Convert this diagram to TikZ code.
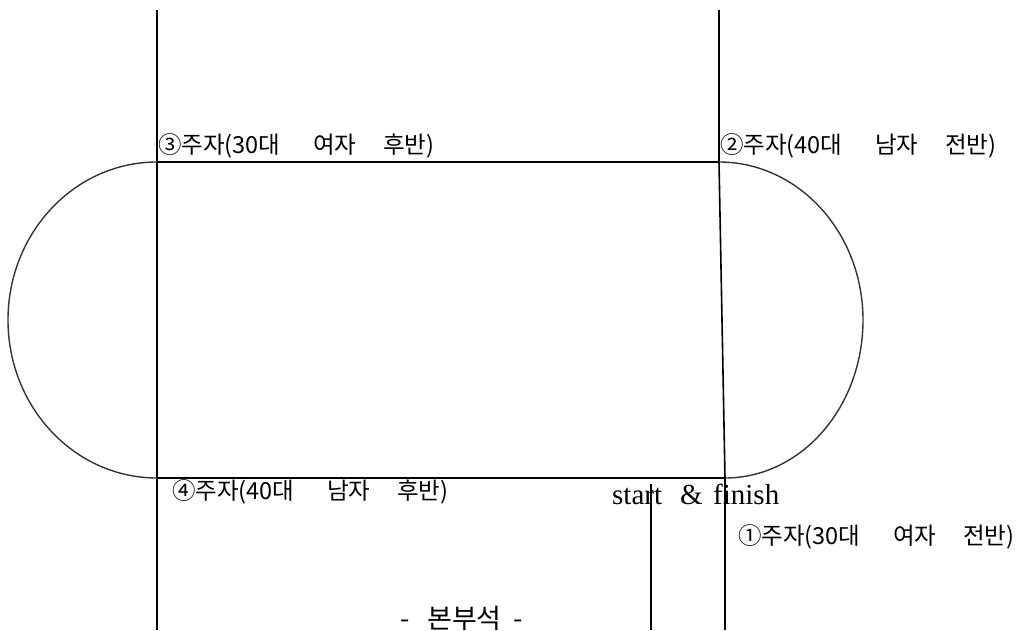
\documentclass[tikz,border=0pt]{standalone}
\usepackage{fontspec}
\newfontfamily\krfont{Noto Sans CJK KR}
\newfontfamily\latfont{Liberation Serif}
\begin{document}
\begin{tikzpicture}[x=1pt,y=1pt,
  trackline/.style={line width=1.6pt,black},
  arcline/.style={line width=1.4pt,black!80},
  runner/.style={anchor=west,inner sep=0pt,font=\krfont\fontsize{23.5}{25}\selectfont},
  latlabel/.style={anchor=west,inner sep=0pt,font=\latfont\fontsize{29}{31}\selectfont}]
\useasboundingbox (0,0) rectangle (1017,630);
% corners
\coordinate (LT) at (157,468);
\coordinate (LB) at (157,152);
\coordinate (RT) at (719,468);
\coordinate (RB) at (725,152);
\coordinate (LTop) at (157,620);
\coordinate (LBot) at (157,0);
\coordinate (RTop) at (719,620);
\coordinate (RBot) at (725,0);
\coordinate (HQtop) at (651,146);
\coordinate (HQbot) at (651,0);
% lines
\draw[trackline] (LTop) -- (LBot);
\draw[trackline] (RTop) -- (RT) -- (RB) -- (RBot);
\draw[trackline] (LT) -- (RT);
\draw[trackline] (LB) -- (RB);
\draw[trackline] (HQtop) -- (HQbot);
% curves
\draw[arcline] (LT) arc[start angle=90,end angle=270,x radius=149pt,y radius=158pt];
\draw[arcline] (RT) arc[start angle=90,end angle=0,x radius=144pt,y radius=158pt]
  arc[start angle=0,end angle=-90,x radius=138pt,y radius=158pt];
% labels
\node[runner] (r3) at (158,484) {\makebox[155pt][l]{③주자(30대}\makebox[70pt][l]{여자}후반)};
\node[runner] (r2) at (720,484) {\makebox[155pt][l]{②주자(40대}\makebox[70pt][l]{남자}전반)};
\node[runner] (r4) at (172,138) {\makebox[155pt][l]{④주자(40대}\makebox[70pt][l]{남자}후반)};
\node[runner] (r1) at (738,93) {\makebox[155pt][l]{①주자(30대}\makebox[70pt][l]{여자}전반)};
\node[latlabel] (sf) at (612,136) {\makebox[68pt][l]{start}\makebox[33pt][l]{\&}finish};
\node[anchor=base west,inner sep=0pt,font=\krfont\fontsize{27}{29}\selectfont] (hq) at (400,2) {\makebox[27pt][l]{-}본부석\hspace{12pt}-};
\end{tikzpicture}
\end{document}
